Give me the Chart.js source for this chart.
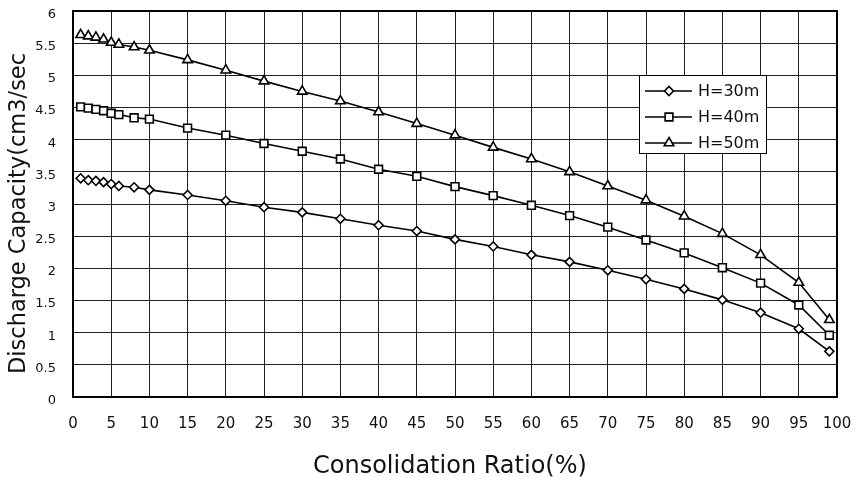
<!DOCTYPE html>
<html><head><meta charset="utf-8">
<script src="https://cdn.jsdelivr.net/npm/chart.js@4"></script>
<style>html,body{margin:0;padding:0;background:#fff}#w{width:856px;height:477px}</style>
</head><body><div id="w"><canvas id="c" width="856" height="477"></canvas></div>
<script>
const ratios = [1,2,3,4,5,6,8,10,15,20,25,30,35,40,45,50,55,60,65,70,75,80,85,90,95,99];
const h30 = [3.40,3.37,3.36,3.34,3.31,3.28,3.26,3.22,3.14,3.05,2.95,2.87,2.77,2.67,2.58,2.45,2.34,2.21,2.10,1.97,1.83,1.68,1.51,1.31,1.06,0.71];
const h40 = [4.51,4.49,4.47,4.45,4.41,4.39,4.34,4.32,4.18,4.07,3.94,3.82,3.70,3.54,3.43,3.27,3.13,2.98,2.82,2.64,2.44,2.24,2.01,1.77,1.43,0.96];
const h50 = [5.63,5.61,5.59,5.56,5.51,5.48,5.44,5.39,5.24,5.08,4.91,4.75,4.60,4.43,4.25,4.07,3.88,3.70,3.50,3.28,3.06,2.81,2.54,2.21,1.78,1.20];
const seriesNames = ["H=30m","H=40m","H=50m"];
const markerStyles = ["rectRot","rect","triangle"];
const xTicks = [0,5,10,15,20,25,30,35,40,45,50,55,60,65,70,75,80,85,90,95,100];
const yTicks = [0,0.5,1,1.5,2,2.5,3,3.5,4,4.5,5,5.5,6];
const xTitle = "Consolidation Ratio(%)";
const yTitle = "Discharge Capacity(cm3/sec";

const FONT = "'DejaVu Sans', 'Liberation Sans', Arial, sans-serif";
function mk(vals){ return ratios.map((x,i)=>({x:x,y:vals[i]})); }
const radii = [4.5,5.5,5.5];
const datasets = [h30,h40,h50].map((v,i)=>({
  label: seriesNames[i], data: mk(v), borderColor:'#000', borderWidth:1.6,
  pointStyle: markerStyles[i], pointRadius: radii[i], pointBackgroundColor:'#fff',
  pointBorderColor:'#000', pointBorderWidth:1.6, tension:0
}));

const legendPlugin = {
  id:'boxLegend',
  afterDraw(chart){
    const ctx = chart.ctx;
    const x0=639, y0=75, w=127, h=78;
    ctx.save();
    ctx.fillStyle='#fff'; ctx.fillRect(x0,y0,w,h);
    ctx.strokeStyle='#000'; ctx.lineWidth=1; ctx.strokeRect(x0+0.5,y0+0.5,w,h);
    chart.data.datasets.forEach((ds,i)=>{
      const cy = y0+16+i*26;
      ctx.strokeStyle='#000'; ctx.lineWidth=1.6;
      ctx.beginPath(); ctx.moveTo(x0+6,cy); ctx.lineTo(x0+53,cy); ctx.stroke();
      ctx.fillStyle='#fff'; ctx.strokeStyle='#000'; ctx.lineWidth=1.6;
      Chart.helpers.drawPoint(ctx,{pointStyle:ds.pointStyle,radius:ds.pointRadius,rotation:0,borderWidth:1.6},x0+30,cy);
      ctx.fillStyle='#111'; ctx.font='16px '+FONT; ctx.textBaseline='middle'; ctx.textAlign='left';
      ctx.fillText(ds.label,x0+59,cy+1);
    });
    ctx.restore();
  }
};

const titlePlugin = {
  id:'axisTitles',
  afterDraw(chart){
    const ctx = chart.ctx;
    ctx.save();
    ctx.fillStyle='#111';
    ctx.textBaseline='alphabetic';
    ctx.textAlign='left';
    ctx.font='24px '+FONT;
    ctx.fillText(xTitle,313,473);
    ctx.font='22.5px '+FONT;
    ctx.translate(25,374);
    ctx.rotate(-Math.PI/2);
    ctx.fillText(yTitle,0,0);
    ctx.restore();
  }
};

new Chart(document.getElementById('c'),{
  type:'line',
  data:{datasets},
  options:{
    responsive:false, animation:false,
    layout:{padding:{top:11,right:19,left:0,bottom:0}},
    plugins:{legend:{display:false},tooltip:{enabled:false}},
    scales:{
      x:{type:'linear',min:0,max:100,
        afterBuildTicks(s){ s.ticks = xTicks.map(v=>({value:v})); },
        afterFit(s){ s.height=80; s.paddingLeft=0; s.paddingRight=0; },
        grid:{color:'#222',lineWidth:1,drawTicks:false},
        border:{color:'#000',width:2},
        ticks:{padding:18,color:'#111',font:{family:FONT,size:15},maxRotation:0,callback:v=>String(v)}
      },
      y:{min:0,max:6,
        afterBuildTicks(s){ s.ticks = yTicks.map(v=>({value:v})); },
        afterFit(s){ s.width=73; s.paddingTop=0; s.paddingBottom=0; },
        grid:{color:'#222',lineWidth:1,drawTicks:false},
        border:{color:'#000',width:2},
        ticks:{padding:17,color:'#111',font:{family:FONT,size:13,lineHeight:0.55},callback:v=>['',String(v)]}
      }
    }
  },
  plugins:[legendPlugin, titlePlugin, {
    id:'frame',
    afterDatasetsDraw(chart){
      const a=chart.chartArea, ctx=chart.ctx;
      ctx.save(); ctx.strokeStyle='#000'; ctx.lineWidth=2;
      ctx.strokeRect(a.left,a.top,a.right-a.left,a.bottom-a.top); ctx.restore();
    }
  }]
});
</script></body></html>
